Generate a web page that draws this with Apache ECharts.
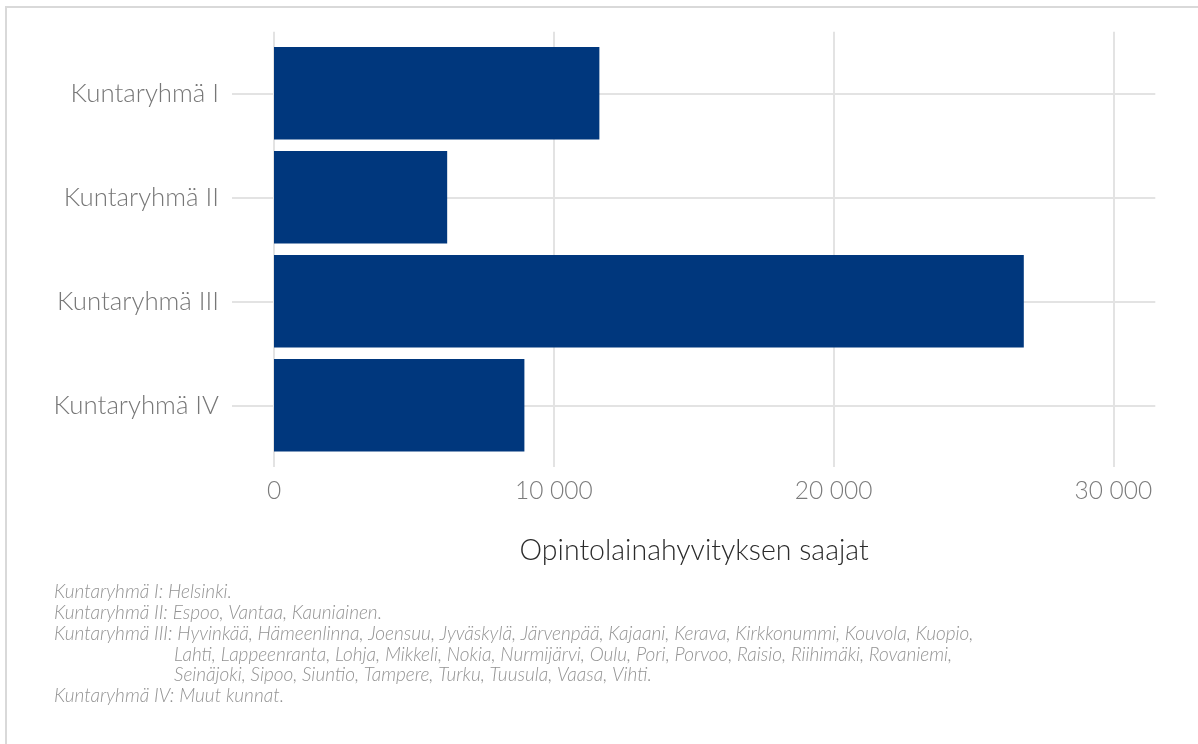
<!DOCTYPE html>
<html>
<head>
<meta charset="utf-8">
<script src="https://cdn.jsdelivr.net/npm/echarts@6/dist/echarts.min.js"></script>
<style>
  html, body { margin: 0; padding: 0; background: #ffffff; }
  #frame { position: absolute; left: 5px; top: 6px; width: 1200px; height: 745px;
           border-top: 2px solid #d9d9d9; border-left: 2px solid #d9d9d9; }
  #chart { position: absolute; left: 0; top: 0; width: 1198px; height: 744px; }
</style>
</head>
<body>
<div id="frame"></div>
<div id="chart"></div>
<script>
const categories = ['Kuntaryhmä I', 'Kuntaryhmä II', 'Kuntaryhmä III', 'Kuntaryhmä IV'];
const recipients = [11630, 6190, 26800, 8950];
const xTicks = [0, 10000, 20000, 30000];
const xTitle = 'Opintolainahyvityksen saajat';
const captionLines = [
  ['Kuntaryhmä I: Helsinki.', false],
  ['Kuntaryhmä II: Espoo, Vantaa, Kauniainen.', false],
  ['Kuntaryhmä III: Hyvinkää, Hämeenlinna, Joensuu, Jyväskylä, Järvenpää, Kajaani, Kerava, Kirkkonummi, Kouvola, Kuopio,', false],
  ['Lahti, Lappeenranta, Lohja, Mikkeli, Nokia, Nurmijärvi, Oulu, Pori, Porvoo, Raisio, Riihimäki, Rovaniemi,', true],
  ['Seinäjoki, Sipoo, Siuntio, Tampere, Turku, Tuusula, Vaasa, Vihti.', true],
  ['Kuntaryhmä IV: Muut kunnat.', false]
];

const FONT = 'Lato, "Open Sans", sans-serif';
const GRID_COLOR = '#e3e3e3';
const fmt = v => String(Math.round(v)).replace(/\B(?=(\d{3})+(?!\d))/g, ' ');

const chart = echarts.init(document.getElementById('chart'), null, { renderer: 'canvas' });

const captionText = captionLines.map(([t, indent]) => (indent ? '{sp| }' : '') + '{c|' + t + '}').join('\n');

chart.setOption({
  backgroundColor: 'transparent',
  animation: false,
  title: {
    left: 54, top: 582, padding: 0,
    text: captionText,
    textStyle: {
      rich: {
        c: { fontFamily: FONT, fontStyle: 'italic', fontWeight: 300, fontSize: 19, color: '#939393', lineHeight: 20.7 },
        sp: { width: 120, fontSize: 19, lineHeight: 20.7 }
      }
    }
  },
  grid: [
    { left: 274, right: 42.7, top: 31.7, bottom: 277, containLabel: false },
    { left: 274, right: 42.7, top: 41.3, bottom: 286.7, containLabel: false }
  ],
  xAxis: [
    {
      gridIndex: 0, type: 'value', min: xTicks[0], max: 31500, interval: 10000,
      axisLine: { show: false }, axisTick: { show: false },
      splitLine: { show: true, showMaxLine: false, lineStyle: { color: GRID_COLOR, width: 2 } },
      axisLabel: {
        show: true, showMaxLabel: false, margin: 12, formatter: fmt,
        fontFamily: FONT, fontWeight: 300, fontSize: 24.5, color: '#7b7b7b'
      },
      name: xTitle, nameLocation: 'middle', nameGap: 69,
      nameTextStyle: { fontFamily: FONT, fontWeight: 300, fontSize: 28.5, color: '#2b2b2b', padding: [0, 41, 0, 0] }
    },
    {
      gridIndex: 1, type: 'value', min: xTicks[0], max: 31500, interval: 10000, show: false
    }
  ],
  yAxis: [
    { gridIndex: 0, type: 'value', min: 0, max: 1, show: false },
    {
      gridIndex: 1, type: 'category', data: categories, inverse: true,
      axisLine: { show: false },
      axisTick: { show: true, alignWithLabel: true, length: 42, lineStyle: { color: GRID_COLOR, width: 2 } },
      splitLine: { show: true, alignWithLabel: true, lineStyle: { color: GRID_COLOR, width: 2 } },
      axisLabel: { margin: 55, fontFamily: FONT, fontWeight: 300, fontSize: 25.8, color: '#777777' }
    }
  ],
  series: [
    {
      type: 'bar', xAxisIndex: 1, yAxisIndex: 1,
      data: recipients, barWidth: '89%',
      itemStyle: { color: '#00377d' }
    }
  ]
});
</script>
</body>
</html>
